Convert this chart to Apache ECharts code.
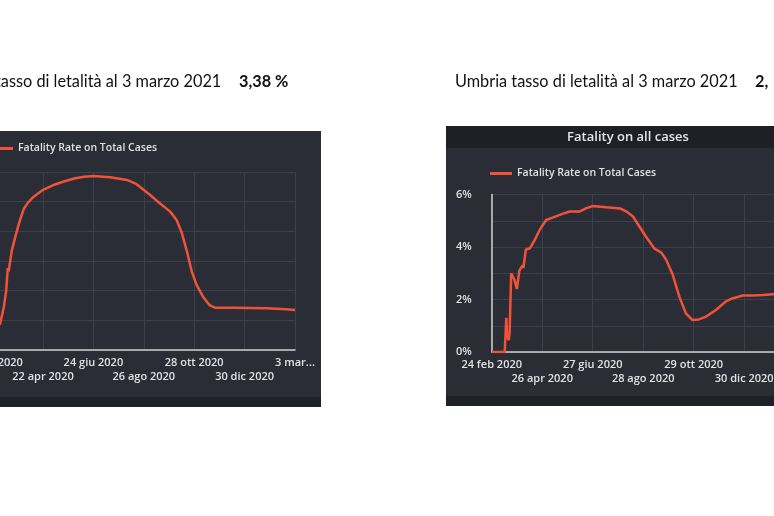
<!DOCTYPE html>
<html><head><meta charset="utf-8">
<script src="https://cdn.jsdelivr.net/npm/echarts@6/dist/echarts.min.js"></script>
<style>html,body{margin:0;padding:0;background:#fff;overflow:hidden}#c{width:774px;height:516px}</style>
</head><body><div id="c"></div>
<script>
// ---- data ----
const seriesName = 'Fatality Rate on Total Cases';
const mesi = ['gen','feb','mar','apr','mag','giu','lug','ago','set','ott','nov','dic'];

// left chart (national) – axis from 19 feb 2020 to 3 mar 2021
const leftStart = '2020-02-19';
const leftEnd = '2021-03-03';
const leftDates = ['2020-02-28','2020-03-04','2020-03-07','2020-03-09','2020-03-10','2020-03-14','2020-03-19','2020-03-24','2020-03-29','2020-04-03','2020-04-10','2020-04-22','2020-05-05','2020-05-18','2020-05-31','2020-06-12','2020-06-24','2020-07-15','2020-08-05','2020-08-17','2020-09-03','2020-09-15','2020-09-28','2020-10-06','2020-10-12','2020-10-19','2020-10-25','2020-10-31','2020-11-08','2020-11-16','2020-11-23','2020-12-16','2021-01-26','2021-02-20','2021-03-03'];
const leftValues = [2.1,3.6,5.0,6.9,6.6,8.4,9.7,10.9,11.9,12.4,12.9,13.5,13.9,14.2,14.45,14.6,14.67,14.56,14.33,13.97,13.06,12.36,11.66,10.96,9.97,8.29,6.6,5.48,4.49,3.79,3.57,3.57,3.51,3.43,3.38];

// right chart (Umbria) – axis from 24 feb 2020 to 3 mar 2021
const rightStart = '2020-02-24';
const rightEnd = '2021-03-03';
const rightDates = ['2020-02-24','2020-03-11','2020-03-12','2020-03-13','2020-03-14','2020-03-16','2020-03-17','2020-03-19','2020-03-20','2020-03-23','2020-03-26','2020-03-29','2020-04-02','2020-04-03','2020-04-06','2020-04-11','2020-04-17','2020-04-23','2020-05-01','2020-05-09','2020-05-21','2020-05-30','2020-06-11','2020-06-19','2020-06-27','2020-07-14','2020-07-31','2020-08-08','2020-08-16','2020-08-24','2020-09-01','2020-09-11','2020-09-20','2020-09-26','2020-10-04','2020-10-12','2020-10-20','2020-10-28','2020-11-05','2020-11-14','2020-11-26','2020-12-08','2020-12-16','2020-12-29','2021-01-10','2021-01-23','2021-02-04','2021-02-20','2021-03-03'];
const rightValues = [0,0,0,1.3,0.6,0.45,0.7,3.0,3.05,2.75,2.4,3.1,3.3,3.2,3.9,3.95,4.27,4.65,5.03,5.12,5.26,5.35,5.35,5.47,5.56,5.51,5.47,5.35,5.16,4.77,4.39,3.95,3.78,3.5,2.93,2.11,1.47,1.22,1.24,1.35,1.6,1.92,2.04,2.15,2.15,2.17,2.2,2.2,2.2];

const headerLeft = 'tasso di letalità al 3 marzo 2021';
const headerLeftValue = '3,38 %';
const headerRight = 'Umbria tasso di letalità al 3 marzo 2021';
const headerRightValue = '2,';
const panelTitle = 'Fatality on all cases';

// ---- helpers ----
function utc(s){const p=s.split('-').map(Number);return Date.UTC(p[0],p[1]-1,p[2]);}
function dayOff(s,start){return Math.round((utc(s)-utc(start))/86400000);}
function fmtDay(v,start,maxDay){
  const d=new Date(utc(start)+Math.floor(v+1e-6)*86400000);
  if (v>=maxDay-1e-6) return d.getUTCDate()+' '+mesi[d.getUTCMonth()]+'...';
  return d.getUTCDate()+' '+mesi[d.getUTCMonth()]+' '+d.getUTCFullYear();
}
const leftMax = dayOff(leftEnd,leftStart);
const rightMax = dayOff(rightEnd,rightStart);
const leftInt = leftMax/6;
const rightInt = Math.round(rightMax/6*10000)/10000;

const lblFont = {color:'#e2e2e2',fontSize:11,fontWeight:600,fontFamily:'Open Sans'};
const gridColor = '#3c404a';
const axisColor = '#d0d0d0';

// row 0 = even tick labels (main axis, with lines); row 1 = odd tick labels (second row)
function xAxisFor(gi,start,maxDay,interval,row){
  return {type:'value',gridIndex:gi,min:0,max:maxDay,interval:interval,position:'bottom',
    axisLine:{show:row===0,lineStyle:{color:axisColor,width:1.5}},
    axisTick:{show:false},
    splitLine:{show:row===0,lineStyle:{color:gridColor,width:1}},
    axisLabel:Object.assign({margin:row===0?7:21,showMinLabel:true,showMaxLabel:true,hideOverlap:false,
      formatter:function(v){return (Math.round(v/interval)%2===row)?fmtDay(v,start,maxDay):'';}},lblFont)};
}

const chart = echarts.init(document.getElementById('c'),null,{renderer:'canvas'});
chart.setOption({
  animation:false,
  backgroundColor:'#ffffff',
  graphic:[
    {type:'rect',shape:{x:-10,y:131,width:331,height:276},style:{fill:'#2a2d36'},z:-10},
    {type:'rect',shape:{x:-10,y:397,width:331,height:10},style:{fill:'#1f2128'},z:-9},
    {type:'rect',shape:{x:446,y:126,width:340,height:280},style:{fill:'#2a2d36'},z:-10},
    {type:'rect',shape:{x:446,y:126,width:340,height:22},style:{fill:'#1e2026'},z:-9},
    {type:'rect',shape:{x:446,y:396,width:340,height:10},style:{fill:'#1f2128'},z:-9},
    {type:'text',style:{text:panelTitle,x:628,y:137,align:'center',verticalAlign:'middle',font:'600 13px "Open Sans"',fill:'#e6e6e6'},z:5},
    {type:'text',style:{text:headerLeft,x:-5,y:82,align:'left',verticalAlign:'middle',font:'16.3px Lato',fill:'#111'},z:5},
    {type:'text',style:{text:headerLeftValue,x:239,y:82,align:'left',verticalAlign:'middle',font:'bold 16.3px Lato',fill:'#111'},z:5},
    {type:'text',style:{text:headerRight,x:455,y:82,align:'left',verticalAlign:'middle',font:'16.3px Lato',fill:'#111'},z:5},
    {type:'text',style:{text:headerRightValue,x:755,y:82,align:'left',verticalAlign:'middle',font:'bold 16.3px Lato',fill:'#111'},z:5}
  ],
  legend:[
    {left:-9,top:143,padding:0,icon:'rect',itemWidth:22,itemHeight:3,data:[seriesName],
      textStyle:{color:'#e0e0e0',fontSize:10.5,fontWeight:600,fontFamily:'Open Sans'}},
    {left:490,top:168,padding:0,icon:'rect',itemWidth:22,itemHeight:3,data:[seriesName],
      textStyle:{color:'#e0e0e0',fontSize:10.5,fontWeight:600,fontFamily:'Open Sans'}}
  ],
  grid:[
    {left:-7.4,top:172,width:302.4,height:178,containLabel:false,outerBoundsMode:'none'},
    {left:491.7,top:194.5,width:303,height:157.5,containLabel:false,outerBoundsMode:'none'}
  ],
  xAxis:[
    xAxisFor(0,leftStart,leftMax,leftInt,0), xAxisFor(1,rightStart,rightMax,rightInt,0),
    xAxisFor(0,leftStart,leftMax,leftInt,1), xAxisFor(1,rightStart,rightMax,rightInt,1)
  ],
  yAxis:[
    {type:'value',gridIndex:0,min:0,max:15,interval:2.5,
      axisLine:{show:true,lineStyle:{color:axisColor,width:1.5}},axisTick:{show:false},
      splitLine:{show:true,lineStyle:{color:gridColor}},
      axisLabel:Object.assign({margin:20,formatter:function(v){return v+'%';}},lblFont)},
    {type:'value',gridIndex:1,min:0,max:6,interval:1,
      axisLine:{show:true,lineStyle:{color:axisColor,width:1.5}},axisTick:{show:false},
      splitLine:{show:true,lineStyle:{color:gridColor}},
      axisLabel:Object.assign({margin:20,formatter:function(v){return (Math.round(v)%2===0)?v+'%':'';}},lblFont)}
  ],
  series:[
    {name:seriesName,type:'line',xAxisIndex:0,yAxisIndex:0,showSymbol:false,
      lineStyle:{color:'#f0533a',width:2.5},itemStyle:{color:'#f0533a'},
      data:leftDates.map((d,i)=>[dayOff(d,leftStart),leftValues[i]])},
    {name:seriesName,type:'line',xAxisIndex:1,yAxisIndex:1,showSymbol:false,
      lineStyle:{color:'#f0533a',width:2.5},itemStyle:{color:'#f0533a'},
      data:rightDates.map((d,i)=>[dayOff(d,rightStart),rightValues[i]])}
  ]
});
</script></body></html>
